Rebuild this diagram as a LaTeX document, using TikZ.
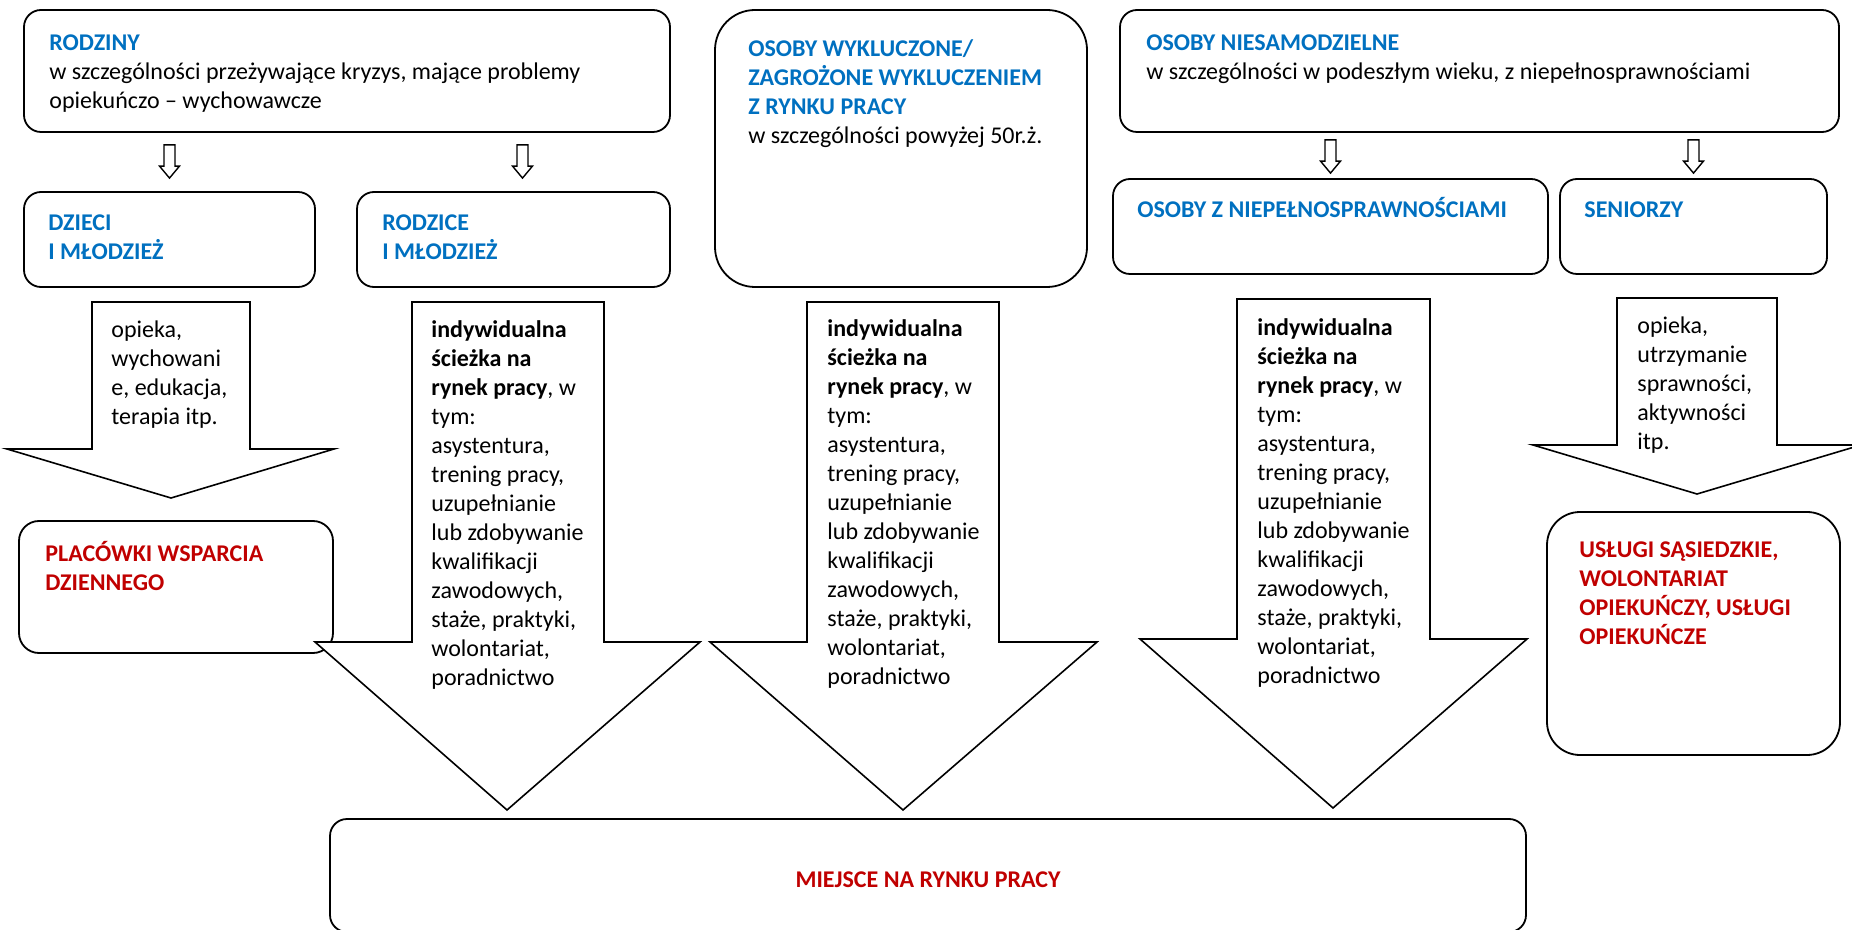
\documentclass[tikz,border=0pt]{standalone}
\usepackage{fontspec}
\setmainfont{Carlito}
\usepackage{tikz}
\usetikzlibrary{calc,fit}

\definecolor{headblue}{RGB}{0,112,192}
\definecolor{headred}{RGB}{192,0,0}

\tikzset{
  box/.style={draw, line width=0.9pt, rounded corners=8.5pt, inner sep=0pt},
  txt/.style={anchor=north west, align=left, inner sep=0pt,
    font=\fontsize{12}{14.5}\selectfont},
  bluehead/.style={txt, text=headblue, font=\fontsize{12}{14.5}\selectfont\bfseries},
  redhead/.style={txt, text=headred, font=\fontsize{12}{14.5}\selectfont\bfseries},
  hollow/.style={draw, fill=white, line width=0.8pt, line join=miter},
}

% blue heading inside a mixed text
\newcommand{\hblue}[1]{\textcolor{headblue}{\textbf{#1}}}

% text of the three job arrows
\newcommand{\sciezka}{\strut\textbf{indywidualna}\\ \textbf{ścieżka na}\\
  \textbf{rynek pracy}, w\\ tym:\\ asystentura,\\ trening pracy,\\
  uzupełnianie\\ lub zdobywanie\\ kwalifikacji\\ zawodowych,\\
  staże, praktyki,\\ wolontariat,\\ poradnictwo}

% small hollow arrow between two boxes: from, to, gap below, gap above, shift
\newcommand{\smallarrow}[5]{%
  \draw[hollow, line width=0.7pt] let \p1=(#1.south), \p2=($(#2.north)+(#5,0)$) in
    (\x2-2.75pt,\y1-#3) -- (\x2+2.75pt,\y1-#3) -- (\x2+2.75pt,\y2+#4+6pt)
    -- (\x2+5pt,\y2+#4+6pt) -- (\x2,\y2+#4) -- (\x2-5pt,\y2+#4+6pt)
    -- (\x2-2.75pt,\y2+#4+6pt) -- cycle;}

\begin{document}
\begin{tikzpicture}[x=0.5pt, y=-0.5pt]
  \useasboundingbox (0,0) rectangle (1852,930);

  % Top row boxes
  \node[box, fit={(24,10) (670,132)}] (rodziny) {};
  \node[box, rounded corners=20pt, fit={(715,10) (1087,287)}] (wykluczone) {};
  \node[box, fit={(1120,10) (1839,132)}] (niesamodzielne) {};

  % Second row boxes
  \node[box, fit={(24,192) (315,287)}] (dzieci) {};
  \node[box, fit={(357,192) (670,287)}] (rodzice) {};
  \node[box, fit={(1113,179) (1548,274)}] (niepelno) {};
  \node[box, fit={(1560,179) (1827,274)}] (seniorzy) {};

  % Target boxes
  \node[box, rounded corners=10pt, fit={(19,521) (333,653)}] (placowki) {};
  \node[box, rounded corners=16.5pt, fit={(1547,512) (1840,755)}] (uslugi) {};
  \node[box, fit={(330,819) (1526,932)}] (miejsce) {};

  % Box texts
  \node[txt] (rodzinytxt) at (49,30) {\strut\hblue{RODZINY}\\
    w szczególności przeżywające kryzys, mające problemy\\
    opiekuńczo – wychowawcze};
  \node[bluehead] (dziecitxt) at (48,210) {\strut DZIECI\\ I MŁODZIEŻ};
  \node[bluehead] (rodzicetxt) at (382,210) {\strut RODZICE\\ I MŁODZIEŻ};
  \node[txt] (wykluczonetxt) at (748,36) {\strut\hblue{OSOBY WYKLUCZONE/}\\
    \hblue{ZAGROŻONE WYKLUCZENIEM}\\ \hblue{Z RYNKU PRACY}\\
    w szczególności powyżej 50r.ż.};
  \node[txt] (niesamtxt) at (1146,30) {\strut\hblue{OSOBY NIESAMODZIELNE}\\
    w szczególności w podeszłym wieku, z niepełnosprawnościami};
  \node[bluehead] (niepelnotxt) at (1137,197) {\strut OSOBY Z NIEPEŁNOSPRAWNOŚCIAMI};
  \node[bluehead] (seniorzytxt) at (1584,197) {\strut SENIORZY};
  \node[redhead] (placowkitxt) at (45,541) {\strut PLACÓWKI WSPARCIA\\ DZIENNEGO};
  \node[redhead] (uslugitxt) at (1579,537) {\strut USŁUGI SĄSIEDZKIE,\\
    WOLONTARIAT\\ OPIEKUŃCZY, USŁUGI\\ OPIEKUŃCZE};
  \node[redhead, anchor=center] (miejscetxt) at (928,880) {MIEJSCE NA RYNKU PRACY};

  % Small arrows
  \smallarrow{rodziny}{dzieci}{6pt}{6.5pt}{0}
  \smallarrow{rodziny}{rodzice}{6pt}{6.5pt}{9}
  \smallarrow{niesamodzielne}{niepelno}{3.5pt}{2.5pt}{0}
  \smallarrow{niesamodzielne}{seniorzy}{3.5pt}{2.5pt}{0}

  % Big arrows
  \draw[hollow] (92,302) -- (250,302) -- (250,449) -- (334,449) -- (171,498)
    -- (7,449) -- (92,449) -- cycle;
  \draw[hollow] (412,302) -- (604,302) -- (604,642) -- (700,642) -- (507,810)
    -- (315,642) -- (412,642) -- cycle;
  \draw[hollow] (807,302) -- (999,302) -- (999,642) -- (1097,642) -- (903,810)
    -- (710,642) -- (807,642) -- cycle;
  \draw[hollow] (1237,299) -- (1430,299) -- (1430,639) -- (1527,639) -- (1333,808)
    -- (1140,639) -- (1237,639) -- cycle;
  \draw[hollow] (1617,298) -- (1777,298) -- (1777,445) -- (1861,445) -- (1697,494)
    -- (1533,445) -- (1617,445) -- cycle;

  % Arrow texts
  \node[txt] (opiekadzieci) at (111,317) {\strut opieka,\\ wychowani\\
    e, edukacja,\\ terapia itp.};
  \node[txt] (sciezkarodzice) at (431,317) {\sciezka};
  \node[txt] (sciezkawykl) at (827,316) {\sciezka};
  \node[txt] (sciezkaniep) at (1257,315) {\sciezka};
  \node[txt] (opiekaseniorzy) at (1637,313) {\strut opieka,\\ utrzymanie\\
    sprawności,\\ aktywności\\ itp.};
\end{tikzpicture}
\end{document}
